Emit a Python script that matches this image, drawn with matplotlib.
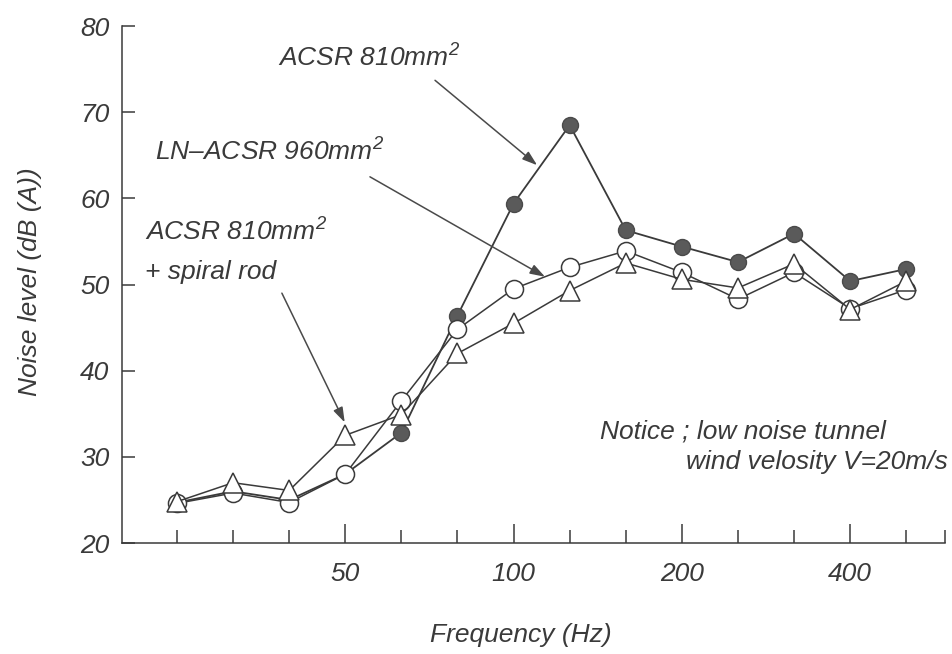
import numpy as np
import matplotlib.pyplot as plt

plt.rcParams['font.family'] = ['Liberation Sans', 'DejaVu Sans']
plt.rcParams['font.style'] = 'italic'
plt.rcParams['mathtext.fontset'] = 'custom'
plt.rcParams['mathtext.it'] = 'Liberation Sans:italic'
plt.rcParams['mathtext.rm'] = 'Liberation Sans:italic'

# 1/3 octave band centres (Hz)
freq = [25, 31.5, 40, 50, 63, 80, 100, 125, 160, 200, 250, 315, 400, 500]
label_freqs = [50, 100, 200, 400]

# noise level dB(A)
acsr_810 = [24.7, 26.0, 25.0, 28.0, 32.8, 46.4, 59.4, 68.5, 56.3, 54.4, 52.6, 55.9, 50.4, 51.8]
ln_acsr_960 = [24.6, 25.8, 24.7, 28.0, 36.5, 44.8, 49.5, 52.0, 53.9, 51.4, 48.3, 51.4, 47.2, 49.4]
acsr_spiral = [24.8, 27.0, 26.1, 32.5, 34.9, 42.0, 45.5, 49.3, 52.5, 50.6, 49.6, 52.4, 47.1, 50.4]

ink = '#3a3a3a'
fs = 19
x = np.arange(len(freq))

fig = plt.figure(figsize=(9.53, 6.54), dpi=100)
ax = fig.add_axes([0.128, 0.1697, 0.8636, 0.7905])

ax.plot(x, acsr_810, color=ink, lw=1.3, marker='o', ms=11.5,
        mfc='#5a5a5a', mec='#4a4a4a', mew=1.0, zorder=3)
ax.plot(x, ln_acsr_960, color=ink, lw=1.1, marker='o', ms=13,
        mfc='white', mec=ink, mew=1.1, zorder=4)
ax.plot(x, acsr_spiral, color=ink, lw=1.1, marker='^', ms=14,
        mfc='white', mec=ink, mew=1.1, zorder=5)

ax.set_xlim(-0.98, 13.69)
ax.set_ylim(20, 80)

major = [freq.index(f) for f in label_freqs]
ax.set_xticks(major)
ax.set_xticklabels([str(f) for f in label_freqs])
minor = [i for i in x if i not in major] + [13.69]
ax.set_xticks(minor, minor=True)
ax.set_yticks(np.arange(20, 81, 10))

for s in ['top', 'right']:
    ax.spines[s].set_visible(False)
for s in ['left', 'bottom']:
    ax.spines[s].set_color(ink)
    ax.spines[s].set_linewidth(1.1)

ax.tick_params(axis='x', which='major', direction='in', length=14, width=1.1,
               color=ink, labelsize=fs, labelcolor=ink, pad=14)
ax.tick_params(axis='x', which='minor', direction='in', length=9.5, width=1.1, color=ink)
ax.tick_params(axis='y', direction='in', length=9, width=1.1,
               color=ink, labelsize=fs, labelcolor=ink, pad=9)

ax.set_xlabel('Frequency (Hz)', fontsize=fs, color=ink)
ax.set_ylabel('Noise level (dB (A))', fontsize=fs, color=ink)
ax.xaxis.set_label_coords(0.484, -0.155)
ax.yaxis.set_label_coords(-0.097, 0.505)

arrow = dict(arrowstyle='-|>,head_length=0.9,head_width=0.3', color='#4a4a4a',
             lw=1.1, shrinkA=0, shrinkB=0)

ax.text(1.80, 76.3, r'ACSR 810mm$^2$', fontsize=fs, color=ink, ha='left', va='center')
ax.annotate('', xy=(6.42, 63.85), xytext=(4.60, 73.7), arrowprops=arrow)

ax.text(-0.39, 65.4, r'LN–ACSR 960mm$^2$', fontsize=fs, color=ink, ha='left', va='center')
ax.annotate('', xy=(6.56, 50.9), xytext=(3.44, 62.5), arrowprops=arrow)

ax.text(-0.57, 56.1, r'ACSR 810mm$^2$', fontsize=fs, color=ink, ha='left', va='center')
ax.text(-0.57, 51.5, '+ spiral rod', fontsize=fs, color=ink, ha='left', va='center')
ax.annotate('', xy=(2.99, 34.0), xytext=(1.87, 49.0), arrowprops=arrow)

ax.text(7.54, 32.9, 'Notice ; low noise tunnel', fontsize=fs, color=ink, ha='left', va='center')
ax.text(13.75, 29.4, 'wind velosity V=20m/s', fontsize=fs, color=ink, ha='right', va='center')

fig.savefig('out.png', dpi=100)
